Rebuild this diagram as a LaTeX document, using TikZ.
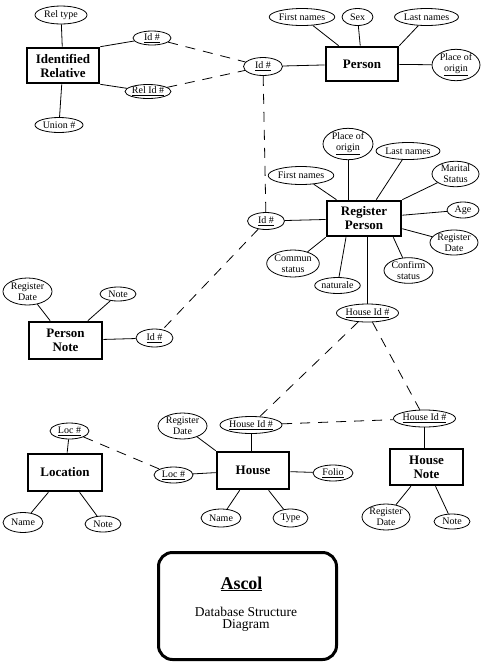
\documentclass[tikz,border=0pt]{standalone}
\usepackage{fontspec}
\setmainfont{Liberation Serif}
\usetikzlibrary{shapes.geometric}
\tikzset{
  ent/.style={draw, line width=2.6pt, inner sep=0pt, align=center,
    font=\fontsize{13}{14}\selectfont\bfseries},
  attr/.style 2 args={ellipse, draw, line width=0.8pt, minimum width=#1,
    minimum height=#2, inner sep=0pt, align=center,
    font=\fontsize{10}{11}\selectfont},
  conn/.style={line width=0.8pt},
  dconn/.style={line width=0.8pt, dash pattern=on 10pt off 8pt},
}
\begin{document}
\begin{tikzpicture}[x=1pt,y=-1pt]
\useasboundingbox (0,0) rectangle (483,665);
% ---------- entities ----------
\node[ent, minimum width=72, minimum height=35] (idrel) at (63,65.5) {Identified\\Relative};
\node[ent, minimum width=72, minimum height=34] (person) at (362,64) {Person};
\node[ent, minimum width=74, minimum height=35] (regp) at (364,218.5) {Register\\Person};
\node[ent, minimum width=73, minimum height=37] (pnote) at (65.5,340.5) {Person\\Note};
\node[ent, minimum width=74, minimum height=37] (loc) at (65,472.5) {Location};
\node[ent, minimum width=72, minimum height=37] (house) at (253,470.5) {House};
\node[ent, minimum width=73, minimum height=36] (hnote) at (426.5,467) {House\\Note};
% ---------- attributes ----------
\node[attr={52}{18}] (reltype) at (61,15) {Rel type};
\node[attr={38}{14}] (id1) at (152,38) {\underline{Id \#}};
\node[attr={46}{14}] (relid) at (148,91.5) {\underline{Rel Id \#}};
\node[attr={48}{15}] (union) at (59,125) {Union \#};
\node[attr={39}{18}] (id2) at (263,66.5) {\underline{Id \#}};
\node[attr={50}{17}] (firstn1) at (302,17) {First names};
\node[attr={31}{17}] (sex) at (357.5,17) {Sex};
\node[attr={53}{17}] (lastn1) at (426.5,17) {Last names};
\node[attr={48}{26}] (poo1) at (456,65) {Place of\\\underline{origin}};
\node[attr={50}{25}] (poo2) at (348,144) {Place of\\\underline{origin}};
\node[attr={50}{17}] (lastn2) at (408,151) {Last names};
\node[attr={52}{18}] (firstn2) at (301,175.5) {First names};
\node[attr={47}{24}] (marital) at (455.5,174) {Marital\\Status};
\node[attr={32}{16}] (age) at (463,210) {Age};
\node[attr={48}{25}] (regdate2) at (454,242.5) {Register\\Date};
\node[attr={49}{25}] (confirm) at (408.5,270.5) {Confirm\\status};
\node[attr={43}{16}] (naturale) at (337.5,285.5) {naturale};
\node[attr={50}{27}] (commun) at (293,263.5) {Commun\\status};
\node[attr={37}{17}] (id3) at (266,221) {\underline{Id \#}};
\node[attr={57}{18}] (hid1) at (367.5,313) {\underline{House Id \#}};
\node[attr={49}{27}] (rdate3) at (27.5,291.5) {Register\\Date};
\node[attr={36}{14}] (note3) at (118,294) {Note};
\node[attr={37}{18}] (id4) at (154.5,338) {\underline{Id \#}};
\node[attr={39}{16}] (loc1) at (69.5,431) {\underline{Loc \#}};
\node[attr={40}{20}] (lname) at (23,522.5) {Name};
\node[attr={36}{16}] (lnote) at (103,524) {Note};
\node[attr={39}{16}] (loc2) at (173.5,475) {\underline{Loc \#}};
\node[attr={49}{26}] (rdate4) at (182.5,426) {Register\\Date};
\node[attr={56}{17}] (hid2) at (251,425) {\underline{House Id \#}};
\node[attr={40}{16}] (folio) at (333,473) {\underline{Folio}};
\node[attr={40}{18}] (hname) at (221,518) {Name};
\node[attr={35}{18}] (htype) at (290.5,518) {Type};
\node[attr={57}{17}] (hid3) at (424.5,418.5) {\underline{House Id \#}};
\node[attr={48}{26}] (rdate5) at (386,517) {Register\\Date};
\node[attr={36}{15}] (hnnote) at (452,521.5) {Note};
% ---------- solid connectors ----------
\draw[conn] (reltype) -- (idrel);
\draw[conn] (idrel.north east) -- (id1);
\draw[conn] (idrel.south east) -- (relid);
\draw[conn] (idrel) -- (union);
\draw[conn] (id2) -- (person);
\draw[conn] (firstn1) -- (person);
\draw[conn] (sex) -- (person);
\draw[conn] (lastn1) -- (person.north east);
\draw[conn] (poo1) -- (person);
\draw[conn] (id3) -- (regp);
\draw[conn] (poo2) -- (poo2 |- regp.north);
\draw[conn] (lastn2) -- (regp);
\draw[conn] (firstn2) -- (regp);
\draw[conn] (marital) -- (regp.north east);
\draw[conn] (age) -- (regp);
\draw[conn] (regdate2) -- (regp);
\draw[conn] (confirm) -- ([xshift=-9pt]regp.south east);
\draw[conn] (naturale) -- ([xshift=-18pt]regp.south);
\draw[conn] (commun) -- (regp.south west);
\draw[conn] (hid1) -- (hid1 |- regp.south);
\draw[conn] (rdate3) -- (pnote);
\draw[conn] (note3) -- (pnote);
\draw[conn] (pnote) -- (id4);
\draw[conn] (loc1) -- (loc);
\draw[conn] (loc) -- (lname);
\draw[conn] (loc) -- (lnote);
\draw[conn] (rdate4) -- (house.north west);
\draw[conn] (hid2) -- (hid2 |- house.north);
\draw[conn] (loc2) -- (house);
\draw[conn] (folio) -- (house);
\draw[conn] (hname) -- (house);
\draw[conn] (htype) -- (house);
\draw[conn] (hid3) -- (hid3 |- hnote.north);
\draw[conn] (rdate5) -- (hnote);
\draw[conn] (hnnote) -- (hnote);
% ---------- dashed connectors ----------
\draw[dconn] (id1) -- (id2);
\draw[dconn] (relid) -- (id2);
\draw[dconn] (id2) -- (id3);
\draw[dconn] (id3) -- (id4);
\draw[dconn] (hid1) -- (hid2);
\draw[dconn] (hid1) -- (hid3);
\draw[dconn] (hid2) -- (hid3);
\draw[dconn] (loc1) -- (loc2);
% ---------- title ----------
\node[draw, rounded corners=14pt, line width=3pt, minimum width=178, minimum height=107, inner sep=0pt] (title) at (247.5,606) {};
\node[anchor=base, inner sep=0pt, font=\fontsize{18}{20}\selectfont\bfseries] (ascol) at (241.5,589) {\underline{Ascol}};
\node[anchor=base, inner sep=0pt, font=\fontsize{13.5}{14}\selectfont] (sub1) at (246,616) {Database Structure};
\node[anchor=base, inner sep=0pt, font=\fontsize{13.5}{14}\selectfont] (sub2) at (246,628) {Diagram};
\end{tikzpicture}
\end{document}
